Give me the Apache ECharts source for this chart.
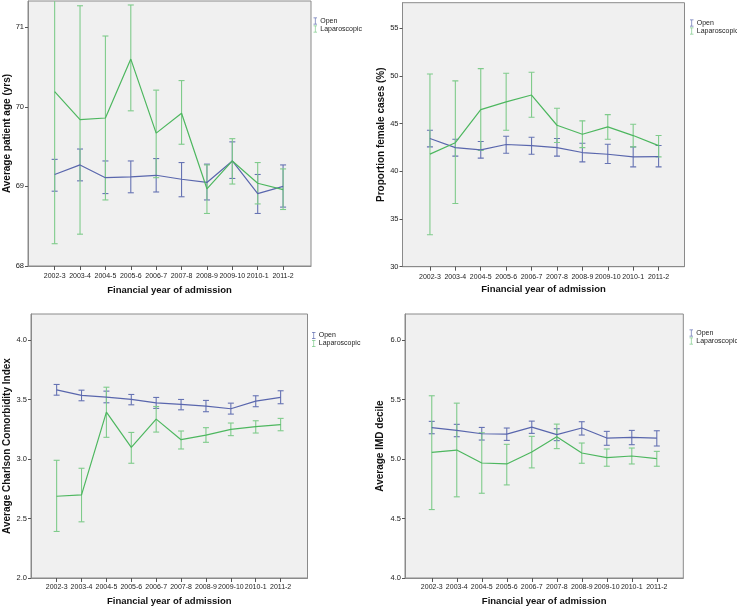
<!DOCTYPE html>
<html>
<head>
<meta charset="utf-8">
<script src="https://cdn.jsdelivr.net/npm/echarts@6/dist/echarts.min.js"></script>
<style>
html,body{margin:0;padding:0;background:#fff;}
#chart{width:737px;height:607px;}
</style>
</head>
<body>
<div id="chart"></div>
<script>
const categories = ['2002-3','2003-4','2004-5','2005-6','2006-7','2007-8','2008-9','2009-10','2010-1','2011-2'];

// Panel 1: Average patient age (yrs)
const ageOpenMean = [69.15, 69.27, 69.11, 69.12, 69.14, 69.09, 69.05, 69.32, 68.91, 69.00];
const ageOpenLo   = [68.94, 69.07, 68.91, 68.92, 68.93, 68.87, 68.83, 69.10, 68.66, 68.74];
const ageOpenHi   = [69.34, 69.47, 69.32, 69.32, 69.35, 69.30, 69.28, 69.56, 69.15, 69.27];
const ageLapMean  = [70.19, 69.84, 69.86, 70.60, 69.67, 69.92, 68.97, 69.32, 69.04, 68.96];
const ageLapLo    = [68.28, 68.40, 68.83, 69.95, 69.11, 69.53, 68.66, 69.03, 68.78, 68.71];
const ageLapHi    = [72.10, 71.27, 70.89, 71.28, 70.21, 70.33, 69.27, 69.60, 69.30, 69.22];
const ageTicks    = [68, 69, 70, 71];

// Panel 2: Proportion female cases (%)
const femOpenMean = [43.44, 42.49, 42.25, 42.81, 42.70, 42.49, 41.97, 41.79, 41.51, 41.55];
const femOpenLo   = [42.56, 41.59, 41.38, 41.90, 41.79, 41.59, 40.99, 40.82, 40.47, 40.47];
const femOpenHi   = [44.31, 43.37, 43.12, 43.68, 43.58, 43.44, 42.95, 42.84, 42.56, 42.70];
const femLapMean  = [41.80, 43.00, 46.47, 47.28, 48.00, 44.83, 43.89, 44.66, 43.75, 42.70];
const femLapLo    = [33.35, 36.63, 42.18, 44.31, 45.67, 43.02, 42.49, 43.37, 42.56, 41.51];
const femLapHi    = [50.20, 49.48, 50.77, 50.28, 50.38, 46.61, 45.29, 45.95, 44.94, 43.75];
const femTicks    = [30, 35, 40, 45, 50, 55];

// Panel 3: Average Charlson Comorbidity Index
const cciOpenMean = [3.581, 3.534, 3.520, 3.500, 3.472, 3.458, 3.444, 3.422, 3.486, 3.517];
const cciOpenLo   = [3.536, 3.489, 3.472, 3.455, 3.425, 3.413, 3.397, 3.377, 3.439, 3.464];
const cciOpenHi   = [3.626, 3.578, 3.570, 3.542, 3.517, 3.500, 3.492, 3.469, 3.531, 3.573];
const cciLapMean  = [2.687, 2.698, 3.394, 3.098, 3.335, 3.162, 3.201, 3.249, 3.271, 3.288];
const cciLapLo    = [2.391, 2.472, 3.182, 2.964, 3.226, 3.084, 3.140, 3.196, 3.218, 3.237];
const cciLapHi    = [2.989, 2.922, 3.603, 3.223, 3.441, 3.235, 3.263, 3.302, 3.321, 3.341];
const cciTicks    = [2.0, 2.5, 3.0, 3.5, 4.0];

// Panel 4: Average IMD decile
const imdOpenMean = [5.263, 5.240, 5.212, 5.209, 5.268, 5.204, 5.260, 5.176, 5.182, 5.176];
const imdOpenLo   = [5.212, 5.187, 5.159, 5.156, 5.215, 5.154, 5.201, 5.115, 5.120, 5.109];
const imdOpenHi   = [5.316, 5.291, 5.265, 5.260, 5.318, 5.254, 5.313, 5.232, 5.240, 5.237];
const imdLapMean  = [5.056, 5.075, 4.966, 4.958, 5.059, 5.187, 5.050, 5.011, 5.025, 5.003];
const imdLapLo    = [4.575, 4.682, 4.712, 4.782, 4.925, 5.087, 4.964, 4.939, 4.958, 4.939];
const imdLapHi    = [5.531, 5.469, 5.220, 5.123, 5.190, 5.293, 5.134, 5.084, 5.092, 5.064];
const imdTicks    = [4.0, 4.5, 5.0, 5.5, 6.0];

const xTitle = 'Financial year of admission';
const legendNames = ['Open', 'Laparoscopic'];

const OPEN_LINE = '#5966ad', OPEN_BAR = '#6673b3';
const LAP_LINE = '#4db75f', LAP_BAR = '#7fcb8b';
const FONT = 'Liberation Sans, Arial, sans-serif';

const panels = [
  { grid:{left:28, top:1, width:283, height:265}, xmin:-1.05, xmax:10.1, ymin:68, ymax:71.33, ticks:ageTicks, dec:0,
    yTitle:'Average patient age (yrs)', yGap:16, xGap:19, xMargin:7,
    om:ageOpenMean, ol:ageOpenLo, oh:ageOpenHi, lm:ageLapMean, ll:ageLapLo, lh:ageLapHi, legend:{left:313.5, top:17.5} },
  { grid:{left:402.5, top:2.7, width:282, height:264}, xmin:-1.08, xmax:10.02, ymin:30, ymax:57.68, ticks:femTicks, dec:0,
    yTitle:'Proportion female cases (%)', yGap:16, xGap:18, xMargin:7,
    om:femOpenMean, ol:femOpenLo, oh:femOpenHi, lm:femLapMean, ll:femLapLo, lh:femLapHi, legend:{left:690, top:19.5} },
  { grid:{left:31, top:314, width:276.5, height:264}, xmin:-1.03, xmax:10.08, ymin:2.0, ymax:4.218, ticks:cciTicks, dec:1,
    yTitle:'Average Charlson Comorbidity Index', yGap:18, xGap:18, xMargin:6,
    om:cciOpenMean, ol:cciOpenLo, oh:cciOpenHi, lm:cciLapMean, ll:cciLapLo, lh:cciLapHi, legend:{left:312, top:332} },
  { grid:{left:405, top:314, width:278.3, height:264}, xmin:-1.07, xmax:10.06, ymin:4.0, ymax:6.218, ticks:imdTicks, dec:1,
    yTitle:'Average IMD decile', yGap:20, xGap:18, xMargin:6,
    om:imdOpenMean, ol:imdOpenLo, oh:imdOpenHi, lm:imdLapMean, ll:imdLapLo, lh:imdLapHi, legend:{left:689.5, top:329.5} }
];

const catIdx = categories.map((c, i) => i);
const IBAR = 'path://M0,0h5v1h-2v8h2v1h-5v-1h2v-8h-2z';

function errRender(color) {
  return function (params, api) {
    const x = api.value(0), lo = api.value(1), hi = api.value(2);
    const a = api.coord([x, lo]), b = api.coord([x, hi]);
    const hw = 3;
    const st = { stroke: color, lineWidth: 1.1 };
    return { type: 'group', children: [
      { type: 'line', shape: { x1: a[0], y1: a[1], x2: b[0], y2: b[1] }, style: st },
      { type: 'line', shape: { x1: a[0] - hw, y1: a[1], x2: a[0] + hw, y2: a[1] }, style: st },
      { type: 'line', shape: { x1: b[0] - hw, y1: b[1], x2: b[0] + hw, y2: b[1] }, style: st }
    ]};
  };
}

const grid = [], xAxis = [], yAxis = [], series = [], legend = [];
panels.forEach((p, k) => {
  grid.push(Object.assign({ show: true, backgroundColor: '#f0f0f0', borderColor: '#8a8a8a', borderWidth: 1 }, p.grid));
  xAxis.push({
    gridIndex: k, type: 'value', min: p.xmin, max: p.xmax, position: 'bottom',
    name: xTitle, nameLocation: 'middle', nameGap: p.xGap,
    nameTextStyle: { fontFamily: FONT, fontWeight: 'bold', fontSize: 9.5, color: '#111' },
    splitLine: { show: false },
    axisLine: { show: true, onZero: false, lineStyle: { color: '#8a8a8a', width: 1 } },
    axisTick: { show: true, length: 4, lineStyle: { color: '#555' }, customValues: catIdx },
    axisLabel: { customValues: catIdx, fontFamily: FONT, fontSize: 7, color: '#222', margin: p.xMargin,
      formatter: v => categories[Math.round(v)] }
  });
  yAxis.push({
    gridIndex: k, type: 'value', min: p.ymin, max: p.ymax, position: 'left',
    name: p.yTitle, nameLocation: 'middle', nameGap: p.yGap,
    nameTextStyle: { fontFamily: FONT, fontWeight: 'bold', fontSize: 10, color: '#111' },
    splitLine: { show: false },
    axisLine: { show: true, onZero: false, lineStyle: { color: '#8a8a8a', width: 1 } },
    axisTick: { show: true, length: 3, lineStyle: { color: '#555' }, customValues: p.ticks },
    axisLabel: { customValues: p.ticks, fontFamily: FONT, fontSize: 7.5, color: '#222', margin: 4,
      formatter: v => v.toFixed(p.dec) }
  });
  const mk = (arr) => arr.map((v, i) => [i, v]);
  const mkErr = (lo, hi) => lo.map((v, i) => [i, v, hi[i]]);
  series.push({ type: 'custom', name: 'Open CI', xAxisIndex: k, yAxisIndex: k, clip: true,
    renderItem: errRender(OPEN_BAR), data: mkErr(p.ol, p.oh), encode: { x: 0, y: [1, 2] }, z: 3 });
  series.push({ type: 'custom', name: 'Laparoscopic CI', xAxisIndex: k, yAxisIndex: k, clip: true,
    renderItem: errRender(LAP_BAR), data: mkErr(p.ll, p.lh), encode: { x: 0, y: [1, 2] }, z: 3 });
  series.push({ type: 'line', name: 'Open', xAxisIndex: k, yAxisIndex: k, data: mk(p.om),
    showSymbol: false, symbol: 'none', color: OPEN_LINE, lineStyle: { color: OPEN_LINE, width: 1.2 }, z: 4, animation: false });
  series.push({ type: 'line', name: 'Laparoscopic', xAxisIndex: k, yAxisIndex: k, data: mk(p.lm),
    showSymbol: false, symbol: 'none', color: LAP_LINE, lineStyle: { color: LAP_LINE, width: 1.2 }, z: 4, animation: false });
  legend.push({
    data: legendNames.map((n, i) => ({ name: n, icon: IBAR, itemStyle: { color: i === 0 ? OPEN_BAR : LAP_BAR } })),
    orient: 'vertical', left: p.legend.left, top: p.legend.top,
    itemWidth: 4, itemHeight: 7, itemGap: 1, padding: 0, selectedMode: false,
    textStyle: { fontFamily: FONT, fontSize: 7, color: '#222', padding: [0, 0, 0, -2] }
  });
});

const chart = echarts.init(document.getElementById('chart'), null, { renderer: 'canvas' });
chart.setOption({ animation: false, backgroundColor: '#fff', grid, xAxis, yAxis, series, legend });
</script>
</body>
</html>
